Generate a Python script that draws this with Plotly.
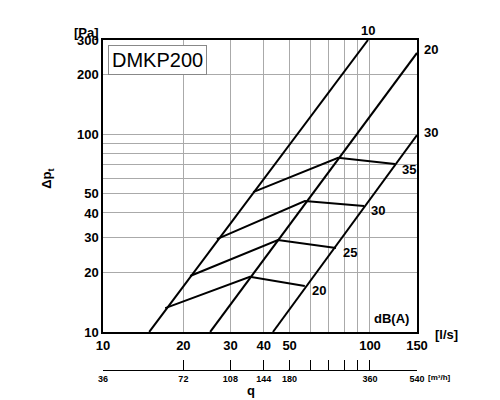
import numpy as np
import plotly.graph_objects as go

# damper position lines (q [l/s], dp [Pa])
pos_names = ["10", "20", "30"]
pos_q = [[14.9, 98.3], [25.2, 150], [43.3, 150]]
pos_dp = [[10, 300], [10, 258], [10, 99]]

# noise lines, points on lines 10 / 20 / 30
db_names = ["20", "25", "30", "35"]
db_q = [[17.1, 35.5, 57], [21.2, 45.2, 74.6], [26.7, 57, 95], [36.5, 76, 124]]
db_dp = [[13.2, 19, 17.1], [19.2, 29.2, 26.6], [29.5, 46, 43.4], [51, 76, 70.7]]

x_ticks = [10, 20, 30, 40, 50, 60, 70, 80, 90, 100, 150]
x_labels = ["10", "20", "30", "40", "50", "", "", "", "", "100", "150"]
m3h_labels = ["36", "72", "108", "144", "180", "", "", "", "", "360", "540"]
y_ticks = [10, 20, 30, 40, 50, 60, 70, 80, 90, 100, 200, 300]
y_labels = ["10", "20", "30", "40", "50", "", "", "", "", "100", "200", "300"]

FONT = "Liberation Sans"
fig = go.Figure()
for q, dp in zip(pos_q, pos_dp):
    fig.add_trace(go.Scatter(x=q, y=dp, mode="lines", line=dict(color="black", width=2), hoverinfo="skip"))
for q, dp in zip(db_q, db_dp):
    fig.add_trace(go.Scatter(x=q, y=dp, mode="lines", line=dict(color="black", width=2), hoverinfo="skip"))
# invisible trace for second axis
fig.add_trace(go.Scatter(x=[10, 150], y=[10, 10], xaxis="x2", mode="lines",
                         line=dict(width=0), hoverinfo="skip"))

lr = [1, np.log10(150)]
fig.update_layout(
    width=500, height=400, showlegend=False,
    plot_bgcolor="white", paper_bgcolor="white",
    margin=dict(l=95, r=91, t=32, b=20, autoexpand=False),
    font=dict(family=FONT, size=12, color="black"),
    xaxis=dict(type="log", range=lr, tickvals=x_ticks, ticktext=x_labels,
               showgrid=True, gridcolor="#aaaaaa", gridwidth=1, automargin=False,
               showline=True, linecolor="black", linewidth=1.5, mirror=True,
               ticks="outside", ticklen=1, tickcolor="white",
               tickfont=dict(size=13, weight="bold"), anchor="y"),
    xaxis2=dict(type="log", range=lr, tickvals=x_ticks, ticktext=m3h_labels,
                anchor="free", position=0.052, overlaying="x", side="bottom",
                showgrid=False, showline=True, linecolor="black", linewidth=1,
                ticks="inside", ticklen=10, tickcolor="black", automargin=False,
                tickfont=dict(size=9, weight="bold")),
    yaxis=dict(type="log", range=[1, np.log10(300)], domain=[0.161, 1],
               tickvals=y_ticks, ticktext=y_labels, automargin=False,
               showgrid=True, gridcolor="#aaaaaa", gridwidth=1,
               showline=True, linecolor="black", linewidth=1.5, mirror=True,
               ticks="", tickfont=dict(size=13, weight="bold")),
)

ann = dict(showarrow=False, font=dict(family=FONT, size=13, weight="bold"))
fig.add_annotation(x=np.log10(98.3), y=np.log10(300), text="10", yshift=10, **ann)
fig.add_annotation(x=np.log10(150), y=np.log10(258), text="20", xanchor="left", xshift=5, yshift=3, **ann)
fig.add_annotation(x=np.log10(150), y=np.log10(99), text="30", xanchor="left", xshift=5, yshift=3, **ann)
for name, q, dp in zip(db_names, db_q, db_dp):
    fig.add_annotation(x=np.log10(q[-1]), y=np.log10(dp[-1]), text=name, xanchor="left",
                       xshift=5, yshift=-5, **ann)
fig.add_annotation(x=np.log10(120), y=np.log10(11.7), text="dB(A)", **ann)
fig.add_annotation(xref="paper", yref="paper", x=1.05, y=0.161, yshift=-12, text="[l/s]",
                   xanchor="left", **ann)
fig.add_annotation(xref="paper", yref="paper", x=1.03, y=0.052, yshift=-14, text="[m³/h]",
                   xanchor="left", showarrow=False, font=dict(family=FONT, size=8, weight="bold"))
fig.add_annotation(xref="paper", yref="paper", x=0.47, y=-0.035, text="q", **ann)
fig.add_annotation(xref="paper", yref="paper", x=-0.1, y=1, yshift=17, text="[Pa]",
                   xanchor="left", **ann)
fig.add_annotation(xref="paper", yref="paper", x=-0.21, y=0.6, text="Δp<sub>t</sub>",
                   textangle=-90, **ann)
fig.add_annotation(xref="paper", yref="paper", x=0.015, y=0.985, xanchor="left", yanchor="top",
                   text="DMKP200", showarrow=False, bgcolor="white",
                   bordercolor="#888888", borderwidth=1, borderpad=3,
                   font=dict(family=FONT, size=20, color="black"))

fig.write_html("out.html")
